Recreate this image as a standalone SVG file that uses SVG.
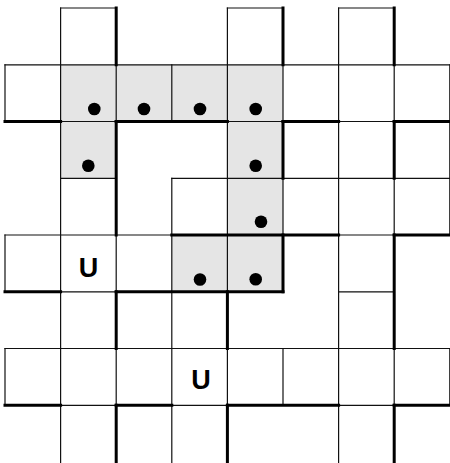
<svg xmlns="http://www.w3.org/2000/svg" width="450" height="463" viewBox="0 0 450 463">
<style>
.c{fill:#fff}
.g{fill:#e5e5e5}
.dot{fill:#000}
.u{font-family:"Liberation Sans",Arial,sans-serif;font-weight:bold;font-size:27px;fill:#000;text-anchor:middle}
.thin{fill:none;stroke:#111;stroke-width:1.2;stroke-linecap:square}
.thick{fill:none;stroke:#000;stroke-width:3;stroke-linecap:square}
</style>
<rect width="450" height="463" fill="#fff"/>
<g id="cells">
<g id="r0c1"><rect class="c" x="60.6" y="8" width="55.6" height="56.8"/></g>
<g id="r0c4"><rect class="c" x="227.4" y="8" width="55.6" height="56.8"/></g>
<g id="r0c6"><rect class="c" x="338.6" y="8" width="55.6" height="56.8"/></g>
<g id="r1c0"><rect class="c" x="5" y="64.8" width="55.6" height="56.7"/></g>
<g id="r1c1"><rect class="g" x="60.6" y="64.8" width="55.6" height="56.7"/><circle class="dot" cx="94.3" cy="109" r="6.3"/></g>
<g id="r1c2"><rect class="g" x="116.2" y="64.8" width="55.6" height="56.7"/><circle class="dot" cx="144" cy="109" r="6.3"/></g>
<g id="r1c3"><rect class="g" x="171.8" y="64.8" width="55.6" height="56.7"/><circle class="dot" cx="200" cy="109" r="6.3"/></g>
<g id="r1c4"><rect class="g" x="227.4" y="64.8" width="55.6" height="56.7"/><circle class="dot" cx="255.7" cy="109" r="6.3"/></g>
<g id="r1c5"><rect class="c" x="283" y="64.8" width="55.6" height="56.7"/></g>
<g id="r1c6"><rect class="c" x="338.6" y="64.8" width="55.6" height="56.7"/></g>
<g id="r1c7"><rect class="c" x="394.2" y="64.8" width="55.6" height="56.7"/></g>
<g id="r2c1"><rect class="g" x="60.6" y="121.5" width="55.6" height="56.8"/><circle class="dot" cx="88.3" cy="165.7" r="6.3"/></g>
<g id="r2c4"><rect class="g" x="227.4" y="121.5" width="55.6" height="56.8"/><circle class="dot" cx="255.7" cy="165.7" r="6.3"/></g>
<g id="r2c5"><rect class="c" x="283" y="121.5" width="55.6" height="56.8"/></g>
<g id="r2c6"><rect class="c" x="338.6" y="121.5" width="55.6" height="56.8"/></g>
<g id="r2c7"><rect class="c" x="394.2" y="121.5" width="55.6" height="56.8"/></g>
<g id="r3c1"><rect class="c" x="60.6" y="178.3" width="55.6" height="56.7"/></g>
<g id="r3c3"><rect class="c" x="171.8" y="178.3" width="55.6" height="56.7"/></g>
<g id="r3c4"><rect class="g" x="227.4" y="178.3" width="55.6" height="56.7"/><circle class="dot" cx="261" cy="221.7" r="6.3"/></g>
<g id="r3c5"><rect class="c" x="283" y="178.3" width="55.6" height="56.7"/></g>
<g id="r3c6"><rect class="c" x="338.6" y="178.3" width="55.6" height="56.7"/></g>
<g id="r3c7"><rect class="c" x="394.2" y="178.3" width="55.6" height="56.7"/></g>
<g id="r4c0"><rect class="c" x="5" y="235" width="55.6" height="56.8"/></g>
<g id="r4c1"><rect class="c" x="60.6" y="235" width="55.6" height="56.8"/><text class="u" x="88.5" y="277">U</text></g>
<g id="r4c2"><rect class="c" x="116.2" y="235" width="55.6" height="56.8"/></g>
<g id="r4c3"><rect class="g" x="171.8" y="235" width="55.6" height="56.8"/><circle class="dot" cx="200" cy="279.5" r="6.3"/></g>
<g id="r4c4"><rect class="g" x="227.4" y="235" width="55.6" height="56.8"/><circle class="dot" cx="255.7" cy="279.3" r="6.3"/></g>
<g id="r4c6"><rect class="c" x="338.6" y="235" width="55.6" height="56.8"/></g>
<g id="r5c1"><rect class="c" x="60.6" y="291.8" width="55.6" height="56.7"/></g>
<g id="r5c2"><rect class="c" x="116.2" y="291.8" width="55.6" height="56.7"/></g>
<g id="r5c3"><rect class="c" x="171.8" y="291.8" width="55.6" height="56.7"/></g>
<g id="r5c6"><rect class="c" x="338.6" y="291.8" width="55.6" height="56.7"/></g>
<g id="r6c0"><rect class="c" x="5" y="348.5" width="55.6" height="56.8"/></g>
<g id="r6c1"><rect class="c" x="60.6" y="348.5" width="55.6" height="56.8"/></g>
<g id="r6c2"><rect class="c" x="116.2" y="348.5" width="55.6" height="56.8"/></g>
<g id="r6c3"><rect class="c" x="171.8" y="348.5" width="55.6" height="56.8"/><text class="u" x="201" y="389">U</text></g>
<g id="r6c4"><rect class="c" x="227.4" y="348.5" width="55.6" height="56.8"/></g>
<g id="r6c5"><rect class="c" x="283" y="348.5" width="55.6" height="56.8"/></g>
<g id="r6c6"><rect class="c" x="338.6" y="348.5" width="55.6" height="56.8"/></g>
<g id="r6c7"><rect class="c" x="394.2" y="348.5" width="55.6" height="56.8"/></g>
<g id="r7c1"><rect class="c" x="60.6" y="405.3" width="55.6" height="58"/></g>
<g id="r7c3"><rect class="c" x="171.8" y="405.3" width="55.6" height="58"/></g>
<g id="r7c6"><rect class="c" x="338.6" y="405.3" width="55.6" height="58"/></g>
</g>
<g id="borders">
<path class="thin" d="M60.6 8H116.2M227.4 8H283M338.6 8H394.2M5 64.8H449.8M60.6 121.5H116.2M227.4 121.5H283M338.6 121.5H394.2M60.6 178.3H116.2M171.8 178.3H449.8M5 235H171.8M338.6 235H394.2M60.6 291.8H116.2M338.6 291.8H394.2M5 348.5H449.8M60.6 405.3H116.2M171.8 405.3H227.4M338.6 405.3H394.2"/>
<path class="thin" d="M5 64.8V121.5M5 235V291.8M5 348.5V405.3M60.6 8V466M116.2 64.8V121.5M116.2 235V291.8M116.2 348.5V405.3M171.8 64.8V121.5M171.8 178.3V466M227.4 8V291.8M227.4 348.5V405.3M283 64.8V121.5M283 178.3V235M283 348.5V405.3M338.6 8V466M394.2 64.8V121.5M394.2 178.3V235M394.2 348.5V405.3M449.8 64.8V235M449.8 348.5V405.3"/>
<path class="thick" d="M5 121.5H60.6M116.2 121.5H227.4M283 121.5H338.6M394.2 121.5H449.8M171.8 235H338.6M394.2 235H449.8M5 291.8H60.6M116.2 291.8H283M5 405.3H60.6M116.2 405.3H171.8M227.4 405.3H338.6M394.2 405.3H449.8"/>
<path class="thick" d="M116.2 8V64.8M116.2 121.5V235M116.2 291.8V348.5M116.2 405.3V466M227.4 291.8V348.5M227.4 405.3V466M283 8V64.8M283 121.5V178.3M283 235V291.8M394.2 8V64.8M394.2 121.5V178.3M394.2 235V348.5M394.2 405.3V466"/>
</g>
</svg>
